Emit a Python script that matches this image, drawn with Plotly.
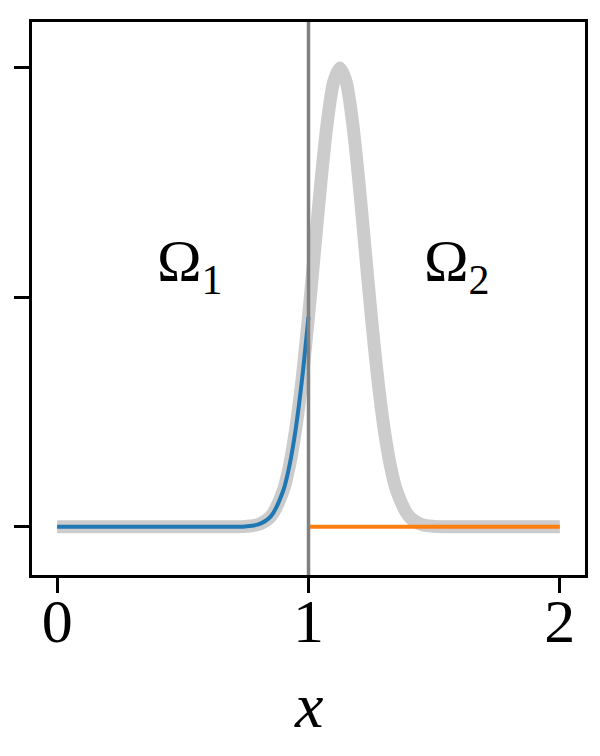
import plotly.graph_objects as go

x_full = [0.0, 0.5, 0.6, 0.65, 0.7, 0.75, 0.8, 0.85, 0.9, 0.925, 0.95, 0.975, 1.0,
          1.025, 1.05, 1.075, 1.1, 1.125, 1.15, 1.175, 1.2, 1.225, 1.25, 1.275,
          1.3, 1.325, 1.35, 1.4, 1.45, 1.5, 1.55, 1.6, 2.0]
y_full = [0.0, 0.0, 0.0, 0.0, 0.0001, 0.0009, 0.0051, 0.0228, 0.0796, 0.1353, 0.2163, 0.3247, 0.4578,
          0.6065, 0.7548, 0.8825, 0.9692, 1.0, 0.9692, 0.8825, 0.7548, 0.6065, 0.4578, 0.3247,
          0.2163, 0.1353, 0.0796, 0.0228, 0.0051, 0.0009, 0.0001, 0.0, 0.0]

x_left = [0.0, 0.5, 0.6, 0.65, 0.7, 0.75, 0.8, 0.85, 0.9, 0.925, 0.95, 0.975, 1.0]
y_left = [0.0, 0.0, 0.0, 0.0, 0.0001, 0.0009, 0.0051, 0.0228, 0.0796, 0.1353, 0.2163, 0.3247, 0.4578]

x_right = [1.0, 2.0]
y_right = [0.0, 0.0]

x_ticks = [0, 1, 2]
x_tick_labels = ["0", "1", "2"]
y_ticks = [0, 0.5, 1]

FONT = "Liberation Serif"

fig = go.Figure()
fig.add_trace(go.Scatter(x=x_full, y=y_full, mode="lines",
                         line=dict(color="#cccccc", width=13, shape="spline", smoothing=0.8),
                         showlegend=False, hoverinfo="skip"))
fig.add_trace(go.Scatter(x=x_left, y=y_left, mode="lines",
                         line=dict(color="#1f77b4", width=4, shape="spline", smoothing=0.8),
                         showlegend=False))
fig.add_trace(go.Scatter(x=x_right, y=y_right, mode="lines",
                         line=dict(color="#ff7f0e", width=4),
                         showlegend=False))

fig.add_shape(type="line", x0=1, x1=1, xref="x", y0=0, y1=1, yref="paper",
              line=dict(color="#808080", width=3.5), layer="above")

fig.add_annotation(x=0.53, y=0.57, xref="x", yref="y", text="Ω<sub>1</sub>",
                   showarrow=False, font=dict(family=FONT, size=60, color="black"),
                   xanchor="center", yanchor="middle")
fig.add_annotation(x=1.59, y=0.57, xref="x", yref="y", text="Ω<sub>2</sub>",
                   showarrow=False, font=dict(family=FONT, size=60, color="black"),
                   xanchor="center", yanchor="middle")

# x-axis label
fig.add_annotation(x=1, y=0, xref="x", yref="paper", text="<i>x</i>",
                   showarrow=False, font=dict(family=FONT, size=64, color="black"),
                   xanchor="center", yanchor="middle", yshift=-130)

# The page body adds an 8px offset, so the margins are shifted to compensate
fig.update_layout(
    width=600, height=756,
    margin=dict(l=24, r=23, t=14, b=189, autoexpand=False),
    plot_bgcolor="white", paper_bgcolor="white",
    font=dict(family=FONT, color="black"),
)
fig.update_xaxes(range=[-0.1, 2.1], tickvals=x_ticks, ticktext=x_tick_labels,
                 ticks="outside", ticklen=15, tickwidth=3, tickcolor="black",
                 tickfont=dict(family=FONT, size=62), ticklabelstandoff=-25,
                 showline=True, linewidth=3, linecolor="black", mirror=True,
                 showgrid=False, zeroline=False, automargin=False)
fig.update_yaxes(range=[-0.105, 1.1], tickvals=y_ticks, showticklabels=False,
                 ticks="outside", ticklen=15, tickwidth=3, tickcolor="black",
                 showline=True, linewidth=3, linecolor="black", mirror=True,
                 showgrid=False, zeroline=False, automargin=False)

fig.write_html("out.html")
